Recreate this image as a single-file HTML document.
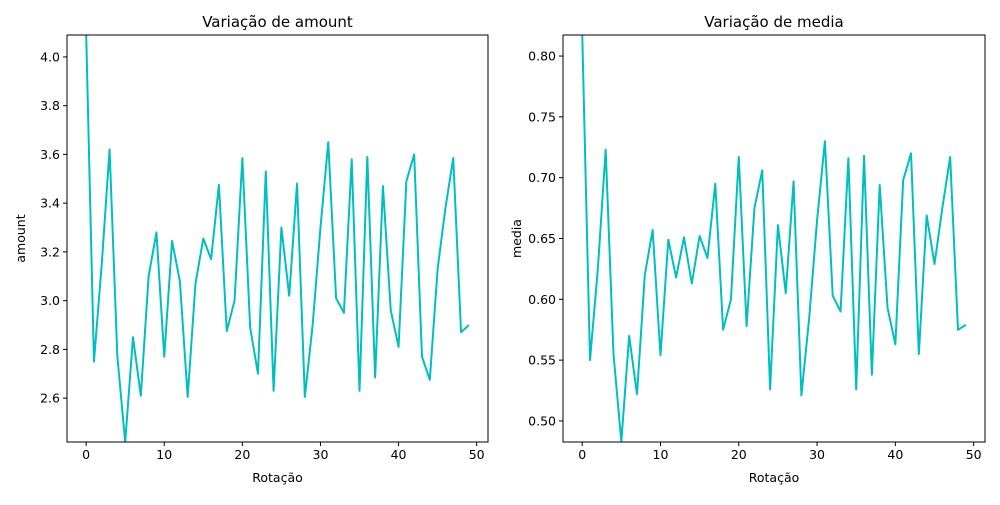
<!DOCTYPE html>
<html><head><meta charset="utf-8"><style>
body{margin:0;background:#fff;font-family:"Liberation Sans","DejaVu Sans",sans-serif}
svg text{font-family:"DejaVu Sans","Liberation Sans",sans-serif;fill:#000}
</style></head><body>
<svg id="c" width="1000" height="500"></svg>
<script>
const rot = Array.from({length:50},(_,i)=>i);
const amountVals=[4.1,2.75,3.15,3.62,2.77,2.42,2.85,2.61,3.10,3.28,2.77,3.245,3.08,2.605,3.07,3.255,3.17,3.475,2.875,3.0,3.585,2.89,2.70,3.53,2.63,3.30,3.02,3.48,2.605,2.90,3.30,3.65,3.01,2.95,3.58,2.63,3.59,2.685,3.47,2.96,2.81,3.49,3.60,2.77,2.675,3.13,3.38,3.585,2.87,2.90];
const mediaVals=[0.82,0.55,0.625,0.723,0.555,0.483,0.57,0.522,0.62,0.657,0.554,0.649,0.618,0.651,0.613,0.652,0.634,0.695,0.575,0.60,0.717,0.578,0.675,0.706,0.526,0.661,0.605,0.697,0.521,0.585,0.665,0.73,0.603,0.59,0.716,0.526,0.718,0.538,0.694,0.593,0.563,0.698,0.72,0.555,0.669,0.629,0.675,0.717,0.575,0.579];
const xTicks=[0,10,20,30,40,50];
const amountTicks=[2.6,2.8,3.0,3.2,3.4,3.6,3.8,4.0];
const mediaTicks=[0.50,0.55,0.60,0.65,0.70,0.75,0.80];
const NS="http://www.w3.org/2000/svg";
const svg=document.getElementById('c');
function mk(t,a,p){const e=document.createElementNS(NS,t);for(const k in a)e.setAttribute(k,a[k]);(p||svg).appendChild(e);return e;}
function panel(key,x0,x1,vals,yTicks,ylo,yhi,dec,title,ylabel){
  const y0=35,y1=442;
  const g=mk('g',{});
  
  
  const sx=v=>x0+(v+2.45)/53.9*(x1-x0);
  const sy=v=>y1-(v-ylo)/(yhi-ylo)*(y1-y0);
  const cid='clip-'+key;
  const cp=mk('clipPath',{id:cid},g);mk('rect',{x:x0,y:y0,width:x1-x0,height:y1-y0},cp);
  const line=mk('polyline',{points:vals.map((v,i)=>sx(rot[i])+','+sy(v)).join(' '),fill:'none',stroke:'#00bfbf','stroke-width':2,'stroke-linejoin':'round','clip-path':'url(#'+cid+')'},g);
  
  
  const fr=mk('rect',{x:x0,y:y0,width:x1-x0,height:y1-y0,fill:'none',stroke:'#000','stroke-width':1},g);
  
  
  xTicks.forEach(t=>{const x=sx(t);mk('line',{x1:x,x2:x,y1:y1,y2:y1+4,stroke:'#000','stroke-width':1},g);
    const tx=mk('text',{x:x,y:y1+17,'font-size':12.5,'text-anchor':'middle'},g);tx.textContent=t;
    
    });
  yTicks.forEach(t=>{const y=sy(t);mk('line',{x1:x0-4,x2:x0,y1:y,y2:y,stroke:'#000','stroke-width':1},g);
    const tx=mk('text',{x:x0-7,y:y+4.5,'font-size':12.5,'text-anchor':'end'},g);tx.textContent=t.toFixed(dec);
    
    });
  const tt=mk('text',{x:(x0+x1)/2,y:27,'font-size':15,'text-anchor':'middle'},g);tt.textContent=title;
  
  
  const xl=mk('text',{x:(x0+x1)/2,y:482,'font-size':12.5,'text-anchor':'middle'},g);xl.textContent='Rotação';
  
  
  const yx=x0-42;
  const yl=mk('text',{x:yx,y:(y0+y1)/2,'font-size':12.5,'text-anchor':'middle',transform:'rotate(-90 '+yx+' '+((y0+y1)/2)+')'},g);yl.textContent=ylabel;
  
  
}
panel('amount',67,488,amountVals,amountTicks,2.42,4.09,1,'Variação de amount','amount');
panel('media',563,985,mediaVals,mediaTicks,0.4827,0.8173,2,'Variação de media','media');
</script>
</body></html>
